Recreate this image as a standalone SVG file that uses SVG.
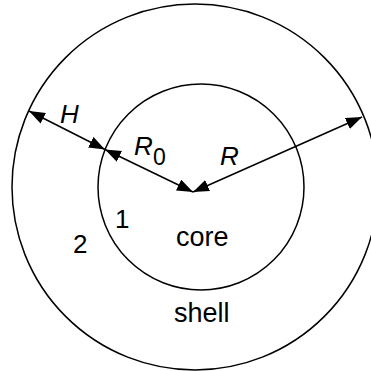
<svg xmlns="http://www.w3.org/2000/svg" width="371" height="371" viewBox="0 0 371 371">
<style>
.c{fill:none;stroke:#000;stroke-width:1.5}
.a{fill:none;stroke:#000;stroke-width:1.5}
.t{font-family:"Liberation Sans",Arial,sans-serif;font-size:26px;fill:#000}
.i{font-style:italic}
</style>
<defs>
<marker id="ah" viewBox="0 0 16 12" refX="16" refY="6" markerWidth="16" markerHeight="12" markerUnits="userSpaceOnUse" orient="auto-start-reverse">
<path d="M0,0 L16,6 L0,12 z" fill="#000"/>
</marker>
</defs>
<rect width="371" height="371" fill="#fff"/>
<g id="shell">
<circle class="c" cx="195" cy="187" r="183"/>
<text class="t" x="174" y="322" style="font-size:27px">shell</text>
<text class="t" x="73" y="253">2</text>
</g>
<g id="core">
<circle class="c" cx="201" cy="187" r="103"/>
<text class="t" x="176" y="246" style="font-size:27px">core</text>
<text class="t" x="115" y="228">1</text>
</g>
<g id="connectors">
<line class="a" x1="29" y1="111" x2="105" y2="149.5" marker-start="url(#ah)" marker-end="url(#ah)"/>
<line class="a" x1="105" y1="149.5" x2="193" y2="192" marker-start="url(#ah)" marker-end="url(#ah)"/>
<line class="a" x1="193" y1="192" x2="362" y2="117" marker-start="url(#ah)" marker-end="url(#ah)"/>
</g>
<g id="labels">
<text class="t i" x="60" y="123">H</text>
<text class="t i" x="134" y="155">R</text>
<text class="t" x="153" y="165" style="font-size:23px">0</text>
<text class="t i" x="220" y="165">R</text>
</g>
</svg>
